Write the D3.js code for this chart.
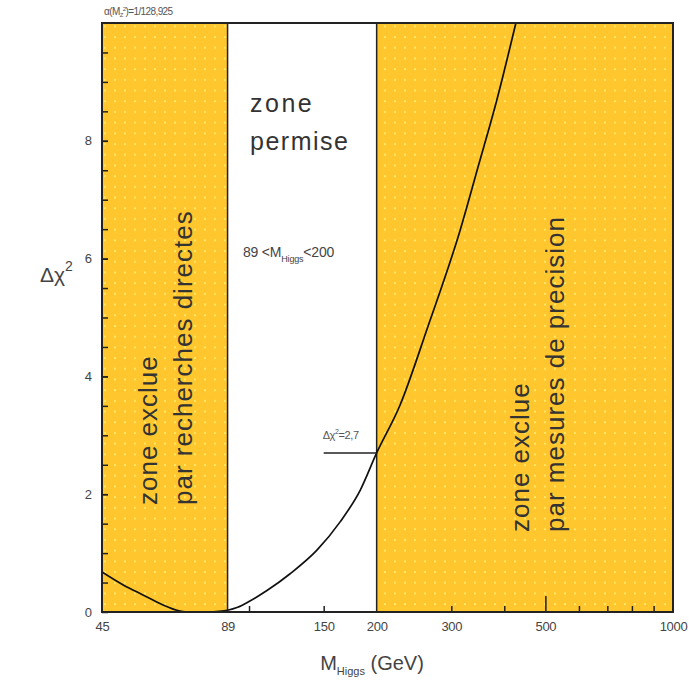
<!DOCTYPE html>
<html><head><meta charset="utf-8">
<script src="https://cdn.jsdelivr.net/npm/d3@7"></script>
<style>body{margin:0;background:#fff}</style>
</head><body><div id="chart"></div>
<script>
// Data
const mass  = [45, 50.5, 56.2, 62.7, 67.6, 71.4, 76, 80, 85, 89, 94, 99.5, 110, 125, 144.6, 164, 183, 200, 227, 264, 315, 347, 384, 426];
const dchi2 = [0.68, 0.46, 0.29, 0.12, 0.03, 0.0, 0.0, 0.0, 0.01, 0.03, 0.08, 0.17, 0.36, 0.65, 1.05, 1.53, 2.07, 2.7, 3.51, 4.84, 6.49, 7.56, 8.69, 10.0];
const xTickLabels = [45, 89, 150, 200, 300, 500, 1000];
const xMinorTicks = [100, 150, 300, 400, 600, 700, 800, 900];
const xMajorInner = [500];
const yTicks = [0, 2, 4, 6, 8];
const yMinor = d3.range(0.5, 10, 0.5);
const excludedZones = [[45, 89], [200, 1000]];
const allowedBounds = [89, 200];
const chi2Limit = 2.7;

const W = 693, H = 684;
const L = 102, R = 673, T = 23, B = 612;
const svg = d3.select("#chart").append("svg").attr("width", W).attr("height", H)
  .style("font-family", "'Liberation Sans', Arial, sans-serif");

const x = d3.scaleLog().domain([45, 1000]).range([L, R]);
const y = d3.scaleLinear().domain([0, 10]).range([B, T]);

const defs = svg.append("defs");
const pat = defs.append("pattern").attr("id", "dots").attr("patternUnits", "userSpaceOnUse")
  .attr("width", 10).attr("height", 10.7);
pat.append("rect").attr("width", 10).attr("height", 10.7).attr("fill", "#FFC62E");
pat.append("circle").attr("cx", 5).attr("cy", 5).attr("r", 1.1).attr("fill", "#FFEB6A");
defs.append("clipPath").attr("id", "clip").append("rect")
  .attr("x", L).attr("y", T).attr("width", R - L).attr("height", B - T);

// excluded zones
svg.selectAll("rect.zone").data(excludedZones).join("rect").attr("class", "zone")
  .attr("x", d => x(d[0])).attr("y", T)
  .attr("width", d => x(d[1]) - x(d[0])).attr("height", B - T)
  .attr("fill", "url(#dots)");

// boundaries
svg.selectAll("line.bound").data(allowedBounds).join("line").attr("class", "bound")
  .attr("x1", d => x(d)).attr("x2", d => x(d)).attr("y1", T).attr("y2", B)
  .attr("stroke", "#222").attr("stroke-width", 1.5);

// minor ticks on x (inside)
const gx2 = svg.append("g").attr("transform", `translate(0,${B})`)
  .call(d3.axisBottom(x).tickValues(xMinorTicks).tickSize(-6).tickFormat(""));
const gx3 = svg.append("g").attr("transform", `translate(0,${B})`)
  .call(d3.axisBottom(x).tickValues(xMajorInner).tickSize(-16).tickFormat(""));
[gx2, gx3].forEach(g => { g.select(".domain").remove(); g.selectAll("line").attr("stroke", "#222").attr("stroke-width", 1.5); });

// x labels
const gx = svg.append("g").attr("transform", `translate(0,${B})`)
  .call(d3.axisBottom(x).tickValues(xTickLabels).tickSize(0).tickPadding(10).tickFormat(d3.format("d")));
gx.select(".domain").remove();
gx.selectAll("text").attr("font-size", 13).attr("fill", "#444").attr("font-family", "'Liberation Sans', Arial, sans-serif")
  .attr("letter-spacing", "-0.3");

// y ticks
const gy = svg.append("g").attr("transform", `translate(${L},0)`)
  .call(d3.axisLeft(y).tickValues(yTicks).tickSize(0).tickPadding(10));
gy.select(".domain").remove();
gy.selectAll("text").attr("font-size", 13).attr("fill", "#444").attr("font-family", "'Liberation Sans', Arial, sans-serif");
const gy2 = svg.append("g").attr("transform", `translate(${L},0)`)
  .call(d3.axisRight(y).tickValues(yMinor.concat(yTicks)).tickSize(6).tickFormat(""));
gy2.select(".domain").remove();
gy2.selectAll("line").attr("stroke", "#222").attr("stroke-width", 1.5);

// curve
const line = d3.line().x((d, i) => x(mass[i])).y((d, i) => y(dchi2[i])).curve(d3.curveMonotoneX);
svg.append("path").datum(dchi2).attr("d", line).attr("fill", "none")
  .attr("stroke", "#111").attr("stroke-width", 1.7).attr("clip-path", "url(#clip)");

// chi2 = 2.7 marker
svg.append("line").attr("x1", x(150)).attr("x2", x(200)).attr("y1", y(chi2Limit)).attr("y2", y(chi2Limit))
  .attr("stroke", "#222").attr("stroke-width", 1.5);
const lab = svg.append("text").attr("x", x(150) - 1).attr("y", y(chi2Limit) - 14)
  .attr("font-size", 11).attr("fill", "#555").attr("letter-spacing", "-0.4");
lab.append("tspan").text("Δχ");
lab.append("tspan").attr("dy", -5).attr("font-size", 7).text("2");
lab.append("tspan").attr("dy", 5).text("=2,7");

// frame
svg.append("rect").attr("x", L).attr("y", T).attr("width", R - L).attr("height", B - T)
  .attr("fill", "none").attr("stroke", "#222").attr("stroke-width", 2);

// top-left label
const tl = svg.append("text").attr("x", 104).attr("y", 15).attr("font-size", 10).attr("fill", "#555").attr("letter-spacing", "-0.6");
tl.append("tspan").text("α(M");
tl.append("tspan").attr("dy", 2).attr("font-size", 6).text("Z");
tl.append("tspan").attr("dy", -6).attr("font-size", 6).text("2");
tl.append("tspan").attr("dy", 4).text(")=1/128,925");

// zone permise
svg.append("text").attr("x", 250).attr("y", 112)
  .attr("font-size", 25).attr("fill", "#333").attr("letter-spacing", "2.5").text("zone");
svg.append("text").attr("x", 250).attr("y", 150)
  .attr("font-size", 25).attr("fill", "#333").attr("letter-spacing", "1.5").text("permise");

// 89 < M_Higgs < 200
const rng = svg.append("text").attr("x", 243).attr("y", 257)
  .attr("font-size", 14).attr("fill", "#444").attr("letter-spacing", "-0.2");
rng.append("tspan").text("89 <M");
rng.append("tspan").attr("dy", 5).attr("font-size", 9).text("Higgs");
rng.append("tspan").attr("dy", -5).text("<200");

// rotated zone texts (bottom aligned)
function vtext(bx, by, txt) {
  svg.append("text").attr("transform", `translate(${bx},${by}) rotate(-90)`)
    .attr("text-anchor", "start").attr("font-size", 26).attr("fill", "#333")
    .attr("letter-spacing", "1").text(txt);
}
vtext(157, 505, "zone exclue");
vtext(192, 505, "par recherches directes");
vtext(529, 532, "zone exclue");
vtext(564, 532, "par mesures de precision");

// axis titles
const yl = svg.append("text").attr("x", 40).attr("y", 282).attr("font-size", 21).attr("fill", "#444");
yl.append("tspan").text("Δχ");
yl.append("tspan").attr("dy", -11).attr("font-size", 14).text("2");

const xl = svg.append("text").attr("x", 372).attr("y", 670).attr("text-anchor", "middle").attr("font-size", 20).attr("fill", "#444");
xl.append("tspan").text("M");
xl.append("tspan").attr("dy", 5).attr("font-size", 11).text("Higgs");
xl.append("tspan").attr("dy", -5).text(" (GeV)");
</script></body></html>
